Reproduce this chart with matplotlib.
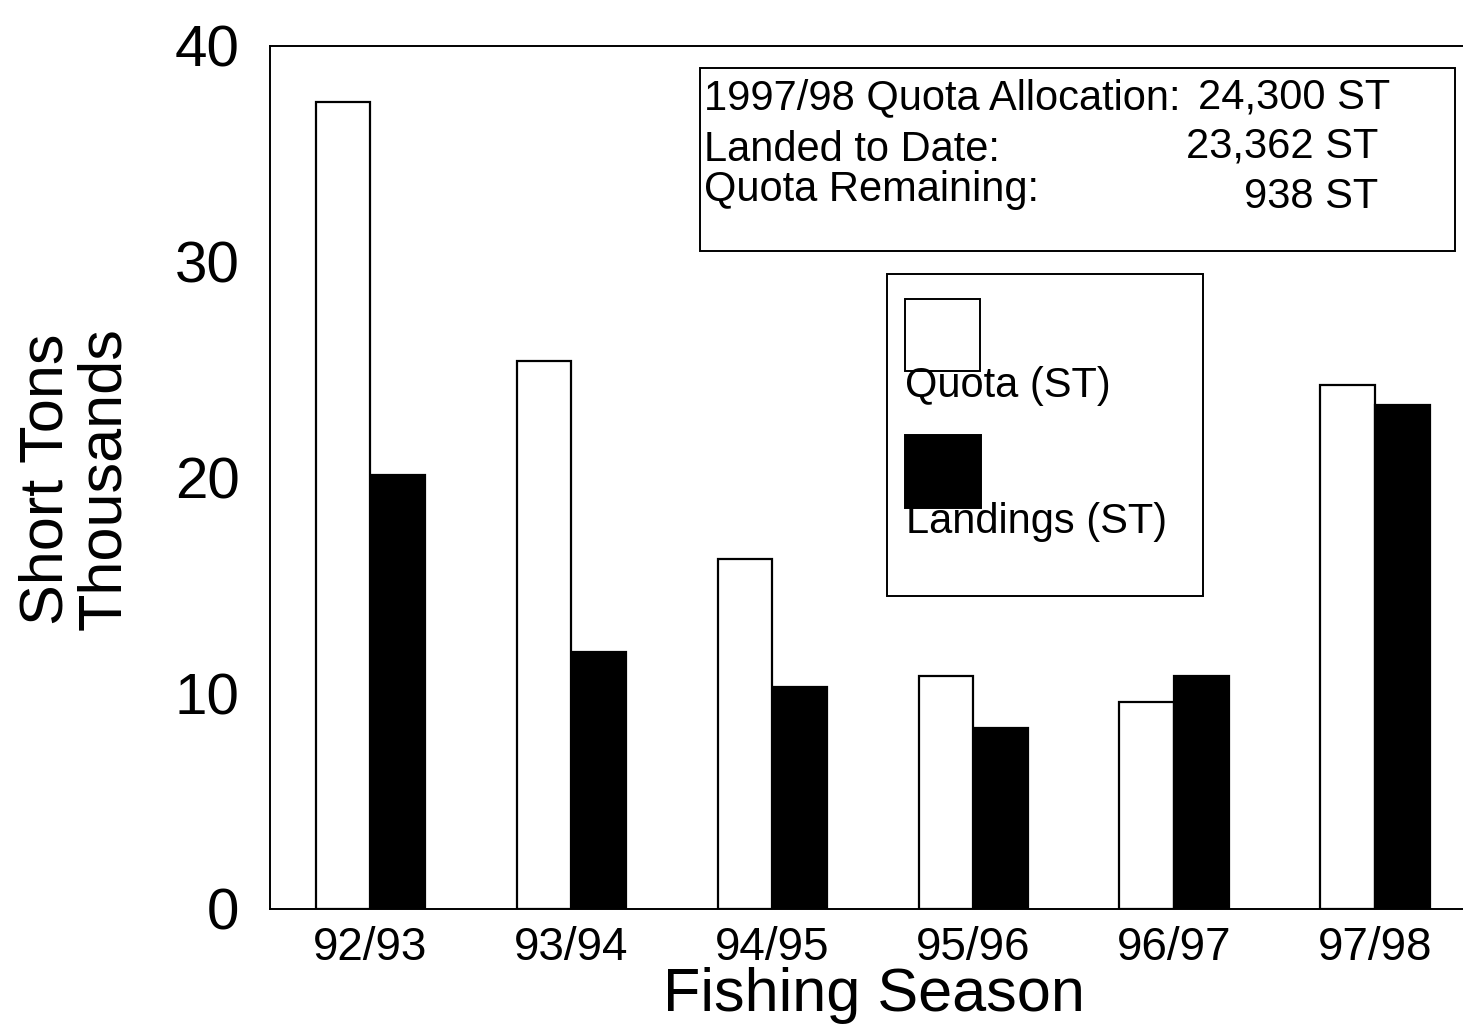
import numpy as np
import matplotlib
matplotlib.use("Agg")
import matplotlib.pyplot as plt
from matplotlib.patches import Rectangle

plt.rcParams['font.family'] = ['Liberation Sans', 'DejaVu Sans']

# data (thousands of short tons)
seasons = ['92/93', '93/94', '94/95', '95/96', '96/97', '97/98']
quota = [37.4, 25.4, 16.2, 10.8, 9.6, 24.3]
landings = [20.1, 11.9, 10.3, 8.4, 10.8, 23.362]
yticks = [0, 10, 20, 30, 40]

info_labels = ['1997/98 Quota Allocation:', 'Landed to Date:', 'Quota Remaining:']
info_values = ['24,300 ST', '23,362 ST', '938 ST']

W, H = 1463, 1028
fig = plt.figure(figsize=(W / 100, H / 100), dpi=100)

def fx(px):
    return px / W

def fy(py):
    return 1 - py / H

ax = fig.add_axes([fx(270), fy(909), 1 - fx(270), fy(45.7) - fy(909)])
x = np.arange(len(seasons))
bw = 0.27
ax.bar(x - 0.137, quota, bw, color='white', edgecolor='black', linewidth=1.6)
ax.bar(x + 0.137, landings, bw, color='black', edgecolor='black', linewidth=1.6)

ax.set_xlim(-0.5, 5.438)
ax.set_ylim(0, 40)
ax.set_yticks(yticks)
ax.set_xticks(x)
ax.set_xticklabels(seasons, fontsize=33)
ax.tick_params(axis='y', length=0, pad=22, labelsize=42)
ax.tick_params(axis='x', length=0, pad=12)
for s in ax.spines.values():
    s.set_linewidth(1.4)
ax.spines['right'].set_visible(False)

fig.text(0.5 * (fx(660) + fx(1087)), fy(995), 'Fishing Season', fontsize=44,
         ha='center', va='center')
fig.text(fx(76), fy(479), 'Short Tons\nThousands', fontsize=44, rotation=90,
         ha='center', va='center', linespacing=1.0, multialignment='center')

# info box
fig.patches.append(Rectangle((fx(700), fy(251)), fx(1455) - fx(700), fy(68) - fy(251),
                             transform=fig.transFigure, fill=False, edgecolor='black',
                             linewidth=1.4))
label_y = [98, 150, 190]
value_y = [97, 147, 197]
value_r = [1390, 1378, 1378]
for lab, val, ly, vy, vr in zip(info_labels, info_values, label_y, value_y, value_r):
    fig.text(fx(704), fy(ly), lab, fontsize=30, ha='left', va='center')
    fig.text(fx(vr), fy(vy), val, fontsize=30, ha='right', va='center')

# legend box
fig.patches.append(Rectangle((fx(887), fy(596)), fx(1203) - fx(887), fy(274) - fy(596),
                             transform=fig.transFigure, fill=False, edgecolor='black',
                             linewidth=1.4))
fig.patches.append(Rectangle((fx(905), fy(371)), fx(980) - fx(905), fy(299) - fy(371),
                             transform=fig.transFigure, facecolor='white', edgecolor='black',
                             linewidth=1.4))
fig.patches.append(Rectangle((fx(905), fy(508)), fx(981) - fx(905), fy(435) - fy(508),
                             transform=fig.transFigure, facecolor='black', edgecolor='black',
                             linewidth=1.4))
fig.text(fx(905), fy(386), 'Quota (ST)', fontsize=30, ha='left', va='center')
fig.text(fx(906), fy(522), 'Landings (ST)', fontsize=30, ha='left', va='center')

fig.savefig('out.png', dpi=100)
